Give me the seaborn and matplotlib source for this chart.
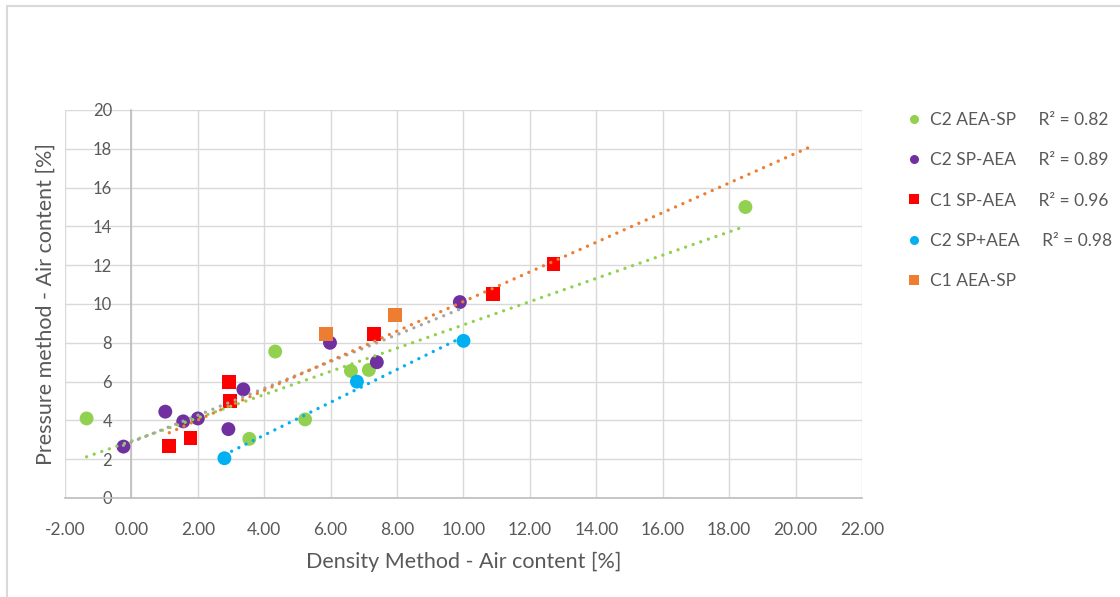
import numpy as np
import pandas as pd
import matplotlib
matplotlib.use("Agg")
import matplotlib.pyplot as plt
import matplotlib.patches as mpatches
from matplotlib.lines import Line2D
import seaborn as sns

# ── Data ──────────────────────────────────────────────────────────────────────

c2_aea_sp_x = [-1.35, 3.55, 4.33, 5.23, 6.61, 7.15, 18.49]
c2_aea_sp_y = [4.10, 3.05, 7.55, 4.05, 6.55, 6.60, 15.00]

c2_sp_aea_x = [-0.24, 1.02, 1.56, 2.00, 2.92, 3.37, 5.98, 7.39, 9.89]
c2_sp_aea_y = [2.65, 4.45, 3.95, 4.10, 3.55, 5.60, 8.00, 7.00, 10.10]

c1_sp_aea_x = [1.14, 1.78, 2.98, 2.95, 7.30, 10.88, 12.71]
c1_sp_aea_y = [2.70, 3.10, 5.00, 6.00, 8.45, 10.50, 12.06]

c2_sp_plus_aea_x = [2.80, 6.79, 10.00]
c2_sp_plus_aea_y = [2.05, 6.00, 8.10]

c1_aea_sp_x = [5.86, 7.94]
c1_aea_sp_y = [8.45, 9.43]

series_names = ["C2 AEA-SP", "C2 SP-AEA", "C1 SP-AEA", "C2 SP+AEA", "C1 AEA-SP"]
r2_labels = ["R² = 0.82", "R² = 0.89", "R² = 0.96", "R² = 0.98", ""]

x_ticks = np.arange(-2, 23, 2)
y_ticks = np.arange(0, 21, 2)

# ── Styling ───────────────────────────────────────────────────────────────────

colours = {
    "C2 AEA-SP": "#92D050",
    "C2 SP-AEA": "#7030A0",
    "C1 SP-AEA": "#FF0000",
    "C2 SP+AEA": "#00B0F0",
    "C1 AEA-SP": "#ED7D31",
}
markers = {
    "C2 AEA-SP": "o",
    "C2 SP-AEA": "o",
    "C1 SP-AEA": "s",
    "C2 SP+AEA": "o",
    "C1 AEA-SP": "s",
}
# trendline colour and forward forecast per series (Excel-style)
trend_style = {
    "C2 AEA-SP": ("#92D050", 0.0),
    "C2 SP-AEA": ("#A5A5A5", 0.0),
    "C1 SP-AEA": ("#ED7D31", 7.75),
    "C2 SP+AEA": ("#00B0F0", 0.0),
}
TEXT = "#595959"
GRID = "#D9D9D9"
AXIS = "#BFBFBF"

sns.set_theme(style="white")
plt.rcParams["font.family"] = ["Lato", "DejaVu Sans"]

xs = [c2_aea_sp_x, c2_sp_aea_x, c1_sp_aea_x, c2_sp_plus_aea_x, c1_aea_sp_x]
ys = [c2_aea_sp_y, c2_sp_aea_y, c1_sp_aea_y, c2_sp_plus_aea_y, c1_aea_sp_y]
df = pd.concat(
    [pd.DataFrame({"x": x, "y": y, "series": n}) for n, x, y in zip(series_names, xs, ys)],
    ignore_index=True,
)

W, H = 1120, 597
fig = plt.figure(figsize=(W / 100, H / 100), dpi=100)
ax = fig.add_axes([65 / W, 1 - 498 / H, (862 - 65) / W, (498 - 110) / H])

sns.scatterplot(
    data=df, x="x", y="y", hue="series", style="series",
    palette=colours, markers=markers, s=100, linewidth=0,
    legend=False, ax=ax, zorder=3,
)

# linear trendlines, drawn over the markers like Excel does
for name, x, y in zip(series_names, xs, ys):
    if name not in trend_style:
        continue
    colour, forward = trend_style[name]
    slope, intercept = np.polyfit(x, y, 1)
    tx = np.array([min(x), max(x) + forward])
    ax.plot(tx, slope * tx + intercept, color=colour, lw=2.4,
            linestyle=(0, (0.01, 2.4)), dash_capstyle="round", zorder=4)

ax.set_xlim(-2, 22)
ax.set_ylim(0, 20)
ax.set_xticks(x_ticks)
ax.set_yticks(y_ticks)
ax.set_xticklabels([f"{v:.2f}" for v in x_ticks])
ax.set_yticklabels([f"{v:d}" for v in y_ticks])
ax.tick_params(axis="x", length=0, pad=17, labelsize=12.5, labelcolor=TEXT)
ax.tick_params(axis="y", length=0, pad=14, labelsize=12, labelcolor=TEXT)

ax.grid(True, color=GRID, lw=1)
ax.set_axisbelow(True)
for side in ["top", "right"]:
    ax.spines[side].set_visible(False)
ax.spines["left"].set_position(("data", 0))
ax.spines["left"].set_color(AXIS)
ax.spines["bottom"].set_color(AXIS)
ax.spines["left"].set_zorder(2)

ax.set_xlabel("Density Method - Air content [%]", fontsize=15.5, color=TEXT)
ax.set_ylabel("Pressure method - Air content [%]", fontsize=15.5, color=TEXT)
ax.xaxis.set_label_coords(0.5, -0.14)
ax.yaxis.set_label_coords(-0.012, 0.5)

# legend with R² values
handles = [
    Line2D([], [], marker=markers[n], ls="", color=colours[n], markersize=6.5, markeredgewidth=0)
    for n in series_names
]
labels = [f"{n}     {r}".rstrip() for n, r in zip(series_names, r2_labels)]
fig.legend(
    handles, labels, loc="upper left", bbox_to_anchor=(900 / W, 1 - 105 / H),
    frameon=False, fontsize=12.5, labelcolor=TEXT, handlelength=0.8,
    handletextpad=0.5, labelspacing=1.4, borderaxespad=0,
)

# chart area border (cut off on the right and bottom)
fig.patches.append(mpatches.Rectangle(
    (7 / W, -0.1), 1.2, 1.1 - 6 / H, transform=fig.transFigure,
    fill=False, ec=GRID, lw=1.5,
))

fig.savefig("out.png", dpi=100)
